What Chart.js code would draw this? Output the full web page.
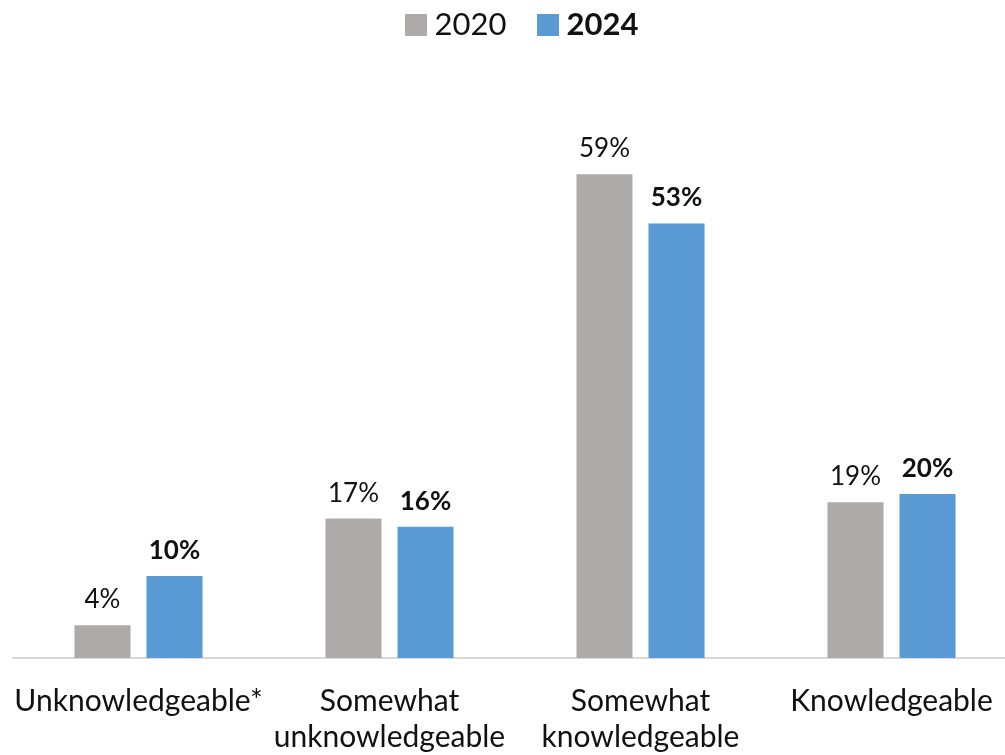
<!DOCTYPE html>
<html lang="en">
  <head>
    <meta charset="UTF-8" />
    <title>Knowledge 2020 vs 2024</title>
    <script src="https://cdn.jsdelivr.net/npm/chart.js"></script>
    <style>
      html, body {
        margin: 0;
        padding: 0;
        background: #fff;
        overflow: hidden;
        font-family: Lato, "Open Sans", sans-serif;
      }
      #wrap {
        position: relative;
        width: 1005px;
        height: 755px;
        overflow: hidden;
      }
      #chartBox {
        position: absolute;
        left: 0;
        top: 0;
        width: 1017px;
        height: 755px;
      }
      #legend {
        position: absolute;
        top: 4px;
        left: 0;
        width: 1043px;
        text-align: center;
        font-size: 31px;
        color: #111;
        white-space: nowrap;
      }
      .item {
        display: inline-block;
        margin: 0 15px;
      }
      .swatch {
        display: inline-block;
        width: 22px;
        height: 22px;
        margin-right: 8px;
        vertical-align: -1px;
      }
    </style>
  </head>
  <body>
    <div id="wrap">
      <div id="chartBox"><canvas id="myChart"></canvas></div>
      <div id="legend"></div>
    </div>

    <script>
      const categories = [
        "Unknowledgeable*",
        ["Somewhat", "unknowledgeable"],
        ["Somewhat", "knowledgeable"],
        "Knowledgeable",
      ];
      const years = ["2020", "2024"];
      const values2020 = [4, 17, 59, 19];
      const values2024 = [10, 16, 53, 20];
      const colors = ["#aeaaaa", "#5b9bd5"];
      const bold = [false, true];

      // legend in html so 2024 can be bold
      const legend = document.getElementById("legend");
      years.forEach((y, i) => {
        const item = document.createElement("span");
        item.className = "item";
        const sw = document.createElement("span");
        sw.className = "swatch";
        sw.style.background = colors[i];
        const txt = document.createElement("span");
        txt.textContent = y;
        if (bold[i]) txt.style.fontWeight = "bold";
        item.appendChild(sw);
        item.appendChild(txt);
        legend.appendChild(item);
      });

      // value labels above bars
      const valueLabels = {
        id: "valueLabels",
        afterDatasetsDraw(chart) {
          const ctx = chart.ctx;
          ctx.save();
          ctx.textAlign = "center";
          ctx.textBaseline = "alphabetic";
          ctx.fillStyle = "#111";
          chart.data.datasets.forEach((ds, i) => {
            ctx.font = (bold[i] ? "bold " : "") + "26px Lato";
            chart.getDatasetMeta(i).data.forEach((bar, j) => {
              ctx.fillText(ds.data[j] + "%", bar.x, bar.y - 17);
            });
          });
          ctx.restore();
        },
      };

      new Chart(document.getElementById("myChart"), {
        type: "bar",
        data: {
          labels: categories,
          datasets: [
            {
              label: years[0],
              data: values2020,
              backgroundColor: colors[0],
            },
            {
              label: years[1],
              data: values2024,
              backgroundColor: colors[1],
            },
          ],
        },
        options: {
          responsive: true,
          maintainAspectRatio: false,
          animation: false,
          layout: { padding: { top: 84, left: 13, right: 0, bottom: 0 } },
          categoryPercentage: 0.574,
          barPercentage: 0.778,
          plugins: {
            legend: { display: false },
            tooltip: { enabled: false },
          },
          scales: {
            x: {
              grid: { display: false },
              border: { color: "#d9d9d9", width: 2 },
              ticks: {
                color: "#111",
                padding: 18,
                maxRotation: 0,
                autoSkip: false,
                font: { family: "Lato", size: 30, lineHeight: 1.18 },
              },
              afterFit(scale) {
                scale.height = 97;
                scale.paddingLeft = 0;
                scale.paddingRight = 0;
              },
            },
            y: {
              display: false,
              min: 0,
              max: 70,
            },
          },
        },
        plugins: [valueLabels],
      });
    </script>
  </body>
</html>
